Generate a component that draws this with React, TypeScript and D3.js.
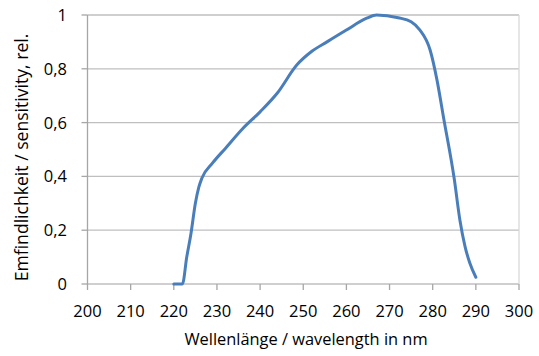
import React from "react";
import * as d3 from "d3";

// wavelength in nm
const wavelengths = [220, 222, 223, 224, 225, 225.8, 226.5, 229, 232, 236, 240, 244, 248.5, 252, 255.5, 260, 264.7, 267, 272, 275, 277, 279.4, 281, 282.5, 285, 286.3, 287.5, 288.6, 290];
// relative sensitivity
const sensitivity = [0, 0, 0.1, 0.19, 0.3, 0.36, 0.393, 0.45, 0.505, 0.578, 0.64, 0.71, 0.814, 0.865, 0.9, 0.944, 0.988, 1.0, 0.99, 0.975, 0.945, 0.87, 0.758, 0.62, 0.39, 0.238, 0.139, 0.078, 0.025];

const xTicks = [200, 210, 220, 230, 240, 250, 260, 270, 280, 290, 300];
const yTicks = [0, 0.2, 0.4, 0.6, 0.8, 1];

const W = 539;
const H = 356;
const FONT = "'Open Sans', sans-serif";

export default function App() {
  const x = d3.scaleLinear().domain([200, 300]).range([87.5, 519]);
  const y = d3.scaleLinear().domain([0, 1]).range([284, 15]);

  const pts: [number, number][] = wavelengths.map((w, i) => [w, sensitivity[i]]);
  const line = d3
    .line<[number, number]>()
    .x((d) => x(d[0]))
    .y((d) => y(d[1]))
    .curve(d3.curveMonotoneX);

  const fmt = (v: number) => (v === 0 || v === 1 ? String(v) : String(v).replace(".", ","));

  return (
    <svg width={W} height={H} style={{ position: "absolute", left: 0, top: 0 }}>
      <rect width={W} height={H} fill="#fff" />
      {/* horizontal grid */}
      {yTicks.map((t) => (
        <line key={"g" + t} x1={x(200)} x2={x(300)} y1={y(t)} y2={y(t)} stroke="#bfbfbf" strokeWidth={1.3} />
      ))}
      {/* right border */}
      <line x1={x(300)} x2={x(300)} y1={y(1)} y2={y(0)} stroke="#d9d9d9" strokeWidth={1.3} />
      {/* y axis */}
      <line x1={x(200)} x2={x(200)} y1={y(1)} y2={y(0)} stroke="#a6a6a6" strokeWidth={1.3} />
      {yTicks.map((t) => (
        <line key={"yt" + t} x1={x(200) - 6} x2={x(200)} y1={y(t)} y2={y(t)} stroke="#a6a6a6" strokeWidth={1.3} />
      ))}
      {/* x axis ticks */}
      {xTicks.map((t) => (
        <line key={"xt" + t} x1={x(t)} x2={x(t)} y1={y(0)} y2={y(0) + 6} stroke="#a6a6a6" strokeWidth={1.3} />
      ))}
      {/* curve */}
      <path d={line(pts) ?? ""} fill="none" stroke="#4a7ebb" strokeWidth={3} strokeLinejoin="round" strokeLinecap="round" />
      {/* y labels */}
      {yTicks.map((t) => (
        <text key={"yl" + t} x={67} y={y(t) + 6} textAnchor="end" fontFamily={FONT} fontSize={16.5} fill="#000">
          {fmt(t)}
        </text>
      ))}
      {/* x labels */}
      {xTicks.map((t) => (
        <text key={"xl" + t} x={x(t)} y={317} textAnchor="middle" fontFamily={FONT} fontSize={16.5} fill="#000">
          {t}
        </text>
      ))}
      <text x={306} y={345} textAnchor="middle" fontFamily={FONT} fontSize={16.4} fill="#000">
        Wellenlänge / wavelength in nm
      </text>
      <text
        transform="translate(28, 157.5) rotate(-90)"
        textAnchor="middle"
        fontFamily={FONT}
        fontSize={17.6}
        fill="#000"
      >
        Emfindlichkeit / sensitivity, rel.
      </text>
    </svg>
  );
}
